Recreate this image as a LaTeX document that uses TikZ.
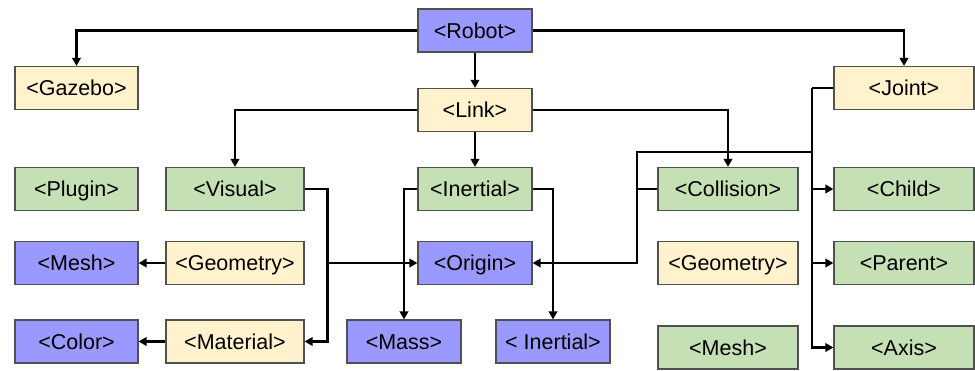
\documentclass[tikz,border=0pt]{standalone}
\usepackage{fontspec}
\setmainfont{Liberation Sans}
\usetikzlibrary{arrows.meta}
\definecolor{boxpurple}{HTML}{9999FF}
\definecolor{boxyellow}{HTML}{FFF2CC}
\definecolor{boxgreen}{HTML}{C5E0B4}
\definecolor{boxedge}{HTML}{505050}
\tikzset{
  tag/.style={draw=boxedge, line width=1.2pt, minimum height=43pt, inner sep=0pt,
              text height=15.4pt, text depth=0pt,
              font=\fontsize{21.5pt}{24pt}\selectfont},
  purp/.style={tag, fill=boxpurple},
  yel/.style={tag, fill=boxyellow},
  grn/.style={tag, fill=boxgreen},
  conn/.style={line width=2.6pt, line join=miter},
  arr/.style={conn, -{Triangle[length=8pt, width=8.5pt]}},
}
\begin{document}
\begin{tikzpicture}[x=1pt, y=-1pt]
\useasboundingbox (0,0) rectangle (975,370);

% top level
\node[purp, minimum width=114pt] (robot)  at (475,30.5) {<Robot>};
\node[yel,  minimum width=123pt] (gazebo) at (76.5,88)  {<Gazebo>};
\node[yel,  minimum width=114pt] (link)   at (475,110)  {<Link>};
\node[yel,  minimum width=140pt] (joint)  at (904,88)   {<Joint>};

% first row
\node[grn, minimum width=123pt] (plugin)    at (76.5,189) {<Plugin>};
\node[grn, minimum width=138pt] (visual)    at (235,189)  {<Visual>};
\node[grn, minimum width=114pt] (inertial)  at (475,189)  {<Inertial>};
\node[grn, minimum width=140pt] (collision) at (728,189)  {<Collision>};
\node[grn, minimum width=140pt] (child)     at (904,189)  {<Child>};

% second row
\node[purp, minimum width=123pt] (mesh)      at (76.5,263) {<Mesh>};
\node[yel,  minimum width=138pt] (geometry)  at (235,263)  {<Geometry>};
\node[purp, minimum width=114pt] (origin)    at (475,263)  {<Origin>};
\node[yel,  minimum width=140pt] (geometryb) at (728,263)  {<Geometry>};
\node[grn,  minimum width=140pt] (parent)    at (904,263)  {<Parent>};

% third row
\node[purp, minimum width=123pt] (color)     at (76.5,341.5) {<Color>};
\node[yel,  minimum width=138pt] (material)  at (235,341.5)  {<Material>};
\node[purp, minimum width=114pt] (mass)      at (404,341.5)  {<Mass>};
\node[purp, minimum width=114pt] (inertialb) at (553,341.5)  {< Inertial>};
\node[grn,  minimum width=140pt] (meshb)     at (728,347.5)  {<Mesh>};
\node[grn,  minimum width=140pt] (axis)      at (904,347.5)  {<Axis>};

% robot children
\draw[arr] (robot.west) -| (gazebo.north);
\draw[arr] (robot.east) -| (joint.north);
\draw[arr] (robot.south) -- (link.north);

% link children
\draw[arr] (link.west) -| (visual.north);
\draw[arr] (link.south) -- (inertial.north);
\draw[arr] (link.east) -| (collision.north);

% visual children
\draw[arr] (visual.east) -- ++(23,0) |- (material.east);
\draw[arr] (visual.east) -- ++(23,0) |- (origin.west);
\draw[arr] (geometry.west) -- (mesh.east);
\draw[arr] (material.west) -- (color.east);

% inertial children
\draw[arr] (inertial.west) -| (mass.north);
\draw[arr] (inertial.east) -| (inertialb.north);

% collision and joint to origin
\coordinate (jbend) at (812,152);
\coordinate (cbend) at (637,152);
\draw[arr] (collision.west) -- (cbend |- collision.west) |- (origin.east);
\draw[conn] (jbend) -- (cbend) -- (cbend |- collision.west);

% joint children
\draw[conn] (joint.west) -- (jbend |- joint.west) coordinate (jx);
\draw[arr] (jx) |- (child.west);
\draw[arr] (jx) |- (parent.west);
\draw[arr] (jx) |- (axis.west);
\end{tikzpicture}
\end{document}
